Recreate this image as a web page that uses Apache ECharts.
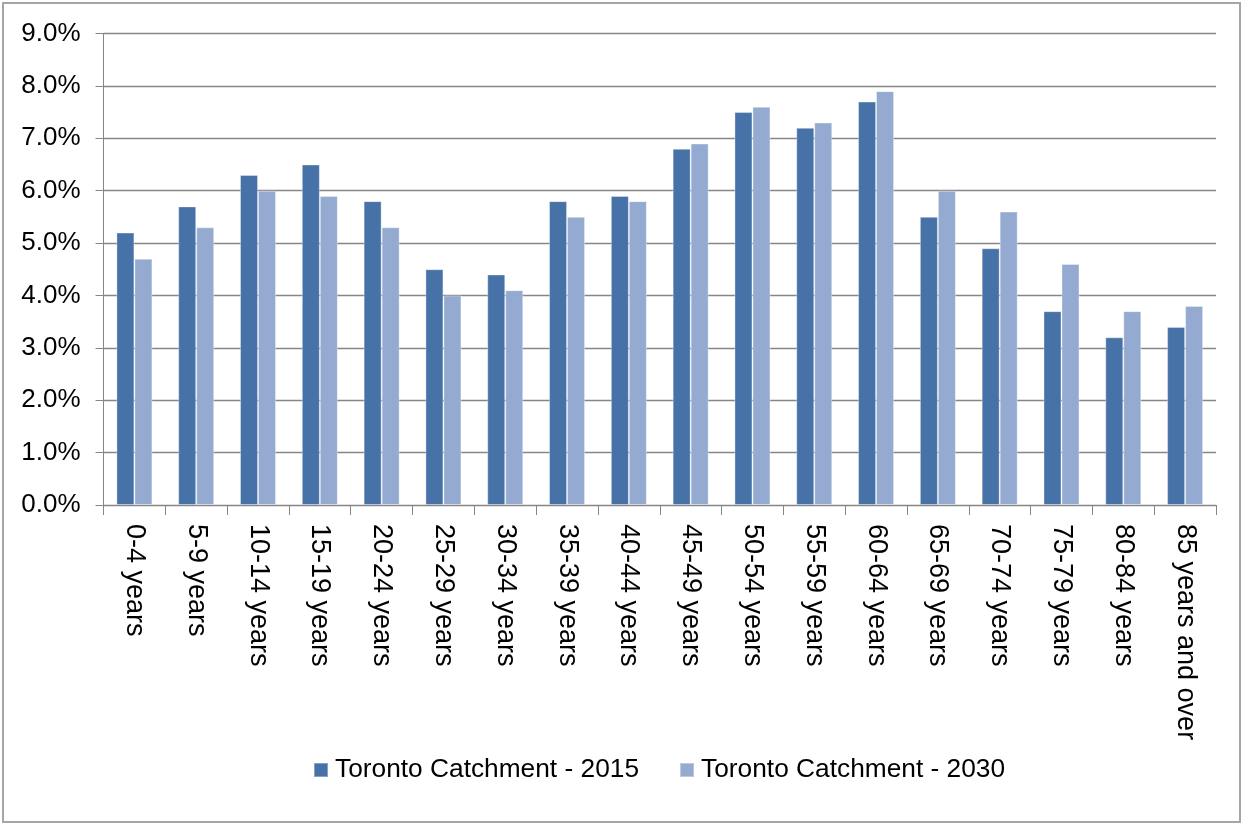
<!DOCTYPE html>
<html><head><meta charset="utf-8">
<script src="https://cdn.jsdelivr.net/npm/echarts@6/dist/echarts.min.js"></script>
<style>html,body{margin:0;padding:0;background:#fff}#c{width:1243px;height:825px}</style>
</head><body><div id="c"></div>
<script>
const categories = ['0-4 years','5-9 years','10-14 years','15-19 years','20-24 years','25-29 years','30-34 years','35-39 years','40-44 years','45-49 years','50-54 years','55-59 years','60-64 years','65-69 years','70-74 years','75-79 years','80-84 years','85 years and over'];
const series2015 = [5.2,5.7,6.3,6.5,5.8,4.5,4.4,5.8,5.9,6.8,7.5,7.2,7.7,5.5,4.9,3.7,3.2,3.4];
const series2030 = [4.7,5.3,6.0,5.9,5.3,4.0,4.1,5.5,5.8,6.9,7.6,7.3,7.9,6.0,5.6,4.6,3.7,3.8];
const seriesNames = ['Toronto Catchment - 2015','Toronto Catchment - 2030'];
const yTicks = {min:0,max:9,interval:1};

const chart = echarts.init(document.getElementById('c'),null,{renderer:'canvas'});
const font = 'Liberation Sans, Arial, sans-serif';
chart.setOption({
  animation:false,
  backgroundColor:'#fff',
  graphic:[{type:'rect',shape:{x:3,y:3,width:1237,height:819},style:{fill:'none',stroke:'#a6a6a6',lineWidth:2},silent:true}],
  grid:{left:103.5,right:27,top:33.5,bottom:320,containLabel:false},
  legend:{left:313,top:757,padding:0,itemWidth:14,itemHeight:14,itemGap:40,
    textStyle:{fontFamily:font,fontSize:26.3,color:'#000',padding:[0,0,0,2]},
    data:seriesNames.map(n=>({name:n,icon:'rect'}))},
  xAxis:{type:'category',data:categories,
    axisLine:{lineStyle:{color:'#868686',width:1}},
    axisTick:{show:true,length:10,interval:0,alignWithLabel:false,lineStyle:{color:'#868686'}},
    axisLabel:{rotate:-90,interval:0,margin:19,fontFamily:font,fontSize:27,color:'#000'}},
  yAxis:{type:'value',min:yTicks.min,max:yTicks.max,interval:yTicks.interval,
    axisLine:{show:true,lineStyle:{color:'#868686',width:1}},
    axisTick:{show:true,length:8,lineStyle:{color:'#868686'}},
    splitLine:{lineStyle:{color:'#868686',width:1.3}},
    axisLabel:{margin:23,fontFamily:font,fontSize:26,color:'#000',formatter:v=>v.toFixed(1)+'%'}},
  series:[
    {name:seriesNames[0],type:'bar',data:series2015,barWidth:18,barGap:'0%',
     itemStyle:{color:'#4672a7',borderColor:'rgba(255,255,255,0.35)',borderWidth:1}},
    {name:seriesNames[1],type:'bar',data:series2030,barWidth:18,barGap:'0%',
     itemStyle:{color:'#95aad1',borderColor:'rgba(255,255,255,0.35)',borderWidth:1}}
  ]
});
</script></body></html>
